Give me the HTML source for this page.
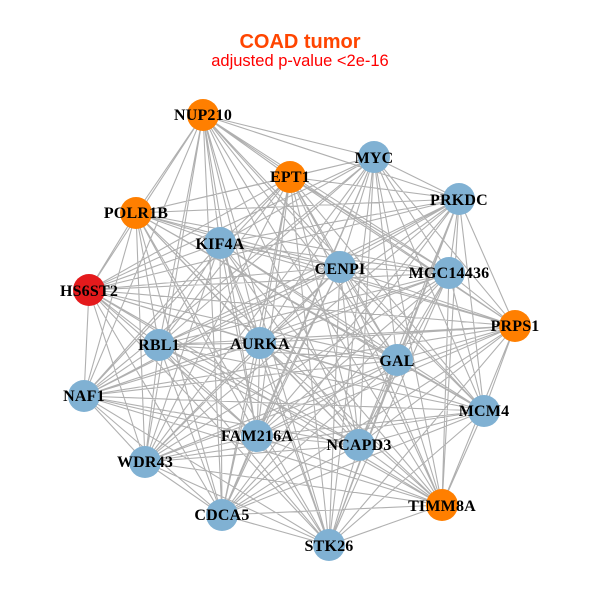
<!DOCTYPE html>
<html><head><meta charset="utf-8"><style>
html,body{margin:0;padding:0;background:#fff}
svg{display:block}
.l{font-family:"Liberation Serif",serif;font-weight:bold;font-size:16px;letter-spacing:.2px;fill:#000;text-anchor:middle}
</style></head><body>
<svg id="s" xmlns="http://www.w3.org/2000/svg" width="600" height="600" viewBox="0 0 600 600">
<rect width="600" height="600" fill="#fff"/>
<g id="e" stroke="#b0b0b0" stroke-width="1.1" fill="none"></g>
<g>
<circle cx="203" cy="115" r="16" fill="#FF7F00"/>
<circle cx="290" cy="177" r="16" fill="#FF7F00"/>
<circle cx="374" cy="157" r="16" fill="#80B1D3"/>
<circle cx="459" cy="199" r="16" fill="#80B1D3"/>
<circle cx="136" cy="213" r="16" fill="#FF7F00"/>
<circle cx="220" cy="243" r="16" fill="#80B1D3"/>
<circle cx="340" cy="267" r="16" fill="#80B1D3"/>
<circle cx="449" cy="273" r="16" fill="#80B1D3"/>
<circle cx="89" cy="290" r="16" fill="#E41A1C"/>
<circle cx="515" cy="326" r="16" fill="#FF7F00"/>
<circle cx="159" cy="345" r="16" fill="#80B1D3"/>
<circle cx="260" cy="343" r="16" fill="#80B1D3"/>
<circle cx="397" cy="360" r="16" fill="#80B1D3"/>
<circle cx="84" cy="396" r="16" fill="#80B1D3"/>
<circle cx="484" cy="411" r="16" fill="#80B1D3"/>
<circle cx="145" cy="462" r="16" fill="#80B1D3"/>
<circle cx="257" cy="436" r="16" fill="#80B1D3"/>
<circle cx="359" cy="445" r="16" fill="#80B1D3"/>
<circle cx="442" cy="505" r="16" fill="#FF7F00"/>
<circle cx="222" cy="515" r="16" fill="#80B1D3"/>
<circle cx="329" cy="545" r="16" fill="#80B1D3"/>
</g>
<g>
<text class="l" x="203" y="120">NUP210</text>
<text class="l" x="290" y="182">EPT1</text>
<text class="l" x="374" y="163">MYC</text>
<text class="l" x="459" y="205">PRKDC</text>
<text class="l" x="136" y="218">POLR1B</text>
<text class="l" x="220" y="249">KIF4A</text>
<text class="l" x="340" y="274">CENPI</text>
<text class="l" x="449" y="278">MGC14436</text>
<text class="l" x="89" y="296">HS6ST2</text>
<text class="l" x="515" y="331">PRPS1</text>
<text class="l" x="159" y="350">RBL1</text>
<text class="l" x="260" y="349">AURKA</text>
<text class="l" x="397" y="366">GAL</text>
<text class="l" x="84" y="401">NAF1</text>
<text class="l" x="484" y="416">MCM4</text>
<text class="l" x="145" y="467">WDR43</text>
<text class="l" x="257" y="441">FAM216A</text>
<text class="l" x="359" y="450">NCAPD3</text>
<text class="l" x="442" y="511">TIMM8A</text>
<text class="l" x="222" y="520">CDCA5</text>
<text class="l" x="329" y="551">STK26</text>
</g>
<text x="300" y="48" text-anchor="middle" font-family="'Liberation Sans',sans-serif" font-weight="bold" font-size="20" fill="#FF4500">COAD tumor</text>
<text x="300" y="66" text-anchor="middle" font-family="'Liberation Sans',sans-serif" font-size="16.5" fill="#FF0000">adjusted p-value &lt;2e-16</text>
</svg>
<script>
var c=document.querySelectorAll('circle'),d='';
for(var i=0;i<c.length;i++)for(var j=i+1;j<c.length;j++){
d+='M'+c[i].getAttribute('cx')+' '+c[i].getAttribute('cy')+'L'+c[j].getAttribute('cx')+' '+c[j].getAttribute('cy');
}
var p=document.createElementNS('http://www.w3.org/2000/svg','path');p.setAttribute('d',d);document.getElementById('e').appendChild(p);
</script>
</body></html>
